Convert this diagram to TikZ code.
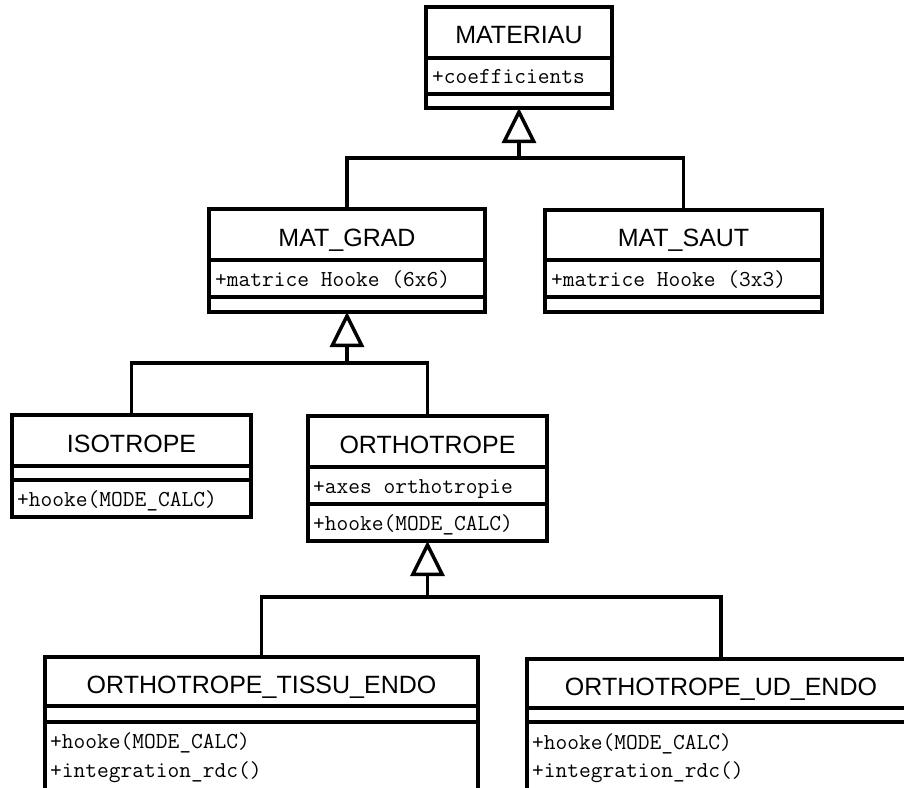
\documentclass[tikz,border=0pt]{standalone}
\usepackage{fontspec}
\setmainfont{Liberation Sans}
\usepackage{tikz}
\usetikzlibrary{arrows.meta}

\tikzset{
  umlbox/.style={draw, line width=3.5pt, anchor=north west, inner sep=0pt, outer sep=0pt},
  umlname/.style={font=\fontsize{25}{30}\selectfont, anchor=base, inner sep=0pt},
  umlitem/.style={font={\ttfamily\fontsize{22.8}{27}\selectfont}, anchor=base west, inner sep=0pt},
  divider/.style={line width=3.5pt},
  link/.style={line width=3.5pt},
  gen/.style={line width=3.5pt, -{Triangle[open,length=35pt,width=34pt]}},
}

\begin{document}
\begin{tikzpicture}[x=1pt,y=-1pt]
  \path[use as bounding box] (0,0) rectangle (904,787);
  \clip (0,0) rectangle (904,787);
  % MATERIAU
  \node[umlbox, minimum width=186pt, minimum height=101pt] (mat) at (426,7) {};
  \draw[divider] (426,58) -- (612,58);
  \draw[divider] (426,94) -- (612,94);
  \node[umlname] (mat-name) at (519,43.5) {MATERIAU};
  \node[umlitem] (mat-attr) at (432,83.5) {+coefficients};
  % MAT_GRAD and MAT_SAUT
  \node[umlbox, minimum width=276pt, minimum height=103pt] (grad) at (209,209) {};
  \draw[divider] (209,260) -- (485,260);
  \draw[divider] (209,297) -- (485,297);
  \node[umlname] (grad-name) at (347,246) {MAT\_GRAD};
  \node[umlitem] (grad-attr) at (215,286) {+matrice Hooke (6x6)};
  \node[umlbox, minimum width=277pt, minimum height=102pt] (saut) at (545,210) {};
  \draw[divider] (545,260) -- (822,260);
  \draw[divider] (545,297) -- (822,297);
  \node[umlname] (saut-name) at (683.5,246) {MAT\_SAUT};
  \node[umlitem] (saut-attr) at (551,286) {+matrice Hooke (3x3)};
  % ISOTROPE and ORTHOTROPE
  \node[umlbox, minimum width=239pt, minimum height=102pt] (iso) at (12,415) {};
  \draw[divider] (12,466) -- (251,466);
  \draw[divider] (12,480) -- (251,480);
  \node[umlname] (iso-name) at (131.5,452) {ISOTROPE};
  \node[umlitem] (iso-op) at (17,506) {+hooke(MODE\_CALC)};
  \node[umlbox, minimum width=239pt, minimum height=125pt] (ortho) at (308,416) {};
  \draw[divider] (308,467) -- (547,467);
  \draw[divider] (308,504) -- (547,504);
  \node[umlname] (ortho-name) at (427.5,453) {ORTHOTROPE};
  \node[umlitem] (ortho-attr) at (313,493) {+axes orthotropie};
  \node[umlitem] (ortho-op) at (313,530) {+hooke(MODE\_CALC)};
  % the two endommageable ones, cut by the page edge
  \node[umlbox, minimum width=433pt, minimum height=143pt] (tissu) at (45,657) {};
  \draw[divider] (45,706) -- (478,706);
  \draw[divider] (45,722) -- (478,722);
  \node[umlname] (tissu-name) at (261.5,693) {ORTHOTROPE\_TISSU\_ENDO};
  \node[umlitem] (tissu-op1) at (50,748) {+hooke(MODE\_CALC)};
  \node[umlitem] (tissu-op2) at (50,777) {+integration\_rdc()};
  \node[umlbox, minimum width=388pt, minimum height=141pt] (ud) at (527,659) {};
  \draw[divider] (527,708) -- (915,708);
  \draw[divider] (527,722) -- (915,722);
  \node[umlname] (ud-name) at (721,695) {ORTHOTROPE\_UD\_ENDO};
  \node[umlitem] (ud-op1) at (532,749) {+hooke(MODE\_CALC)};
  \node[umlitem] (ud-op2) at (532,777) {+integration\_rdc()};
  % generalisations
  \coordinate (j1) at (519,158);
  \coordinate (j2) at (347,363);
  \coordinate (j3) at (427.5,597);
  \draw[link] (grad.north) |- (j1) -| (saut.north);
  \draw[gen] (j1) -- (mat.south);
  \draw[link] (iso.north) |- (j2) -| (ortho.north);
  \draw[gen] (j2) -- (grad.south);
  \draw[link] (tissu.north) |- (j3) -| (ud.north);
  \draw[gen] (j3) -- (ortho.south);
\end{tikzpicture}
\end{document}
